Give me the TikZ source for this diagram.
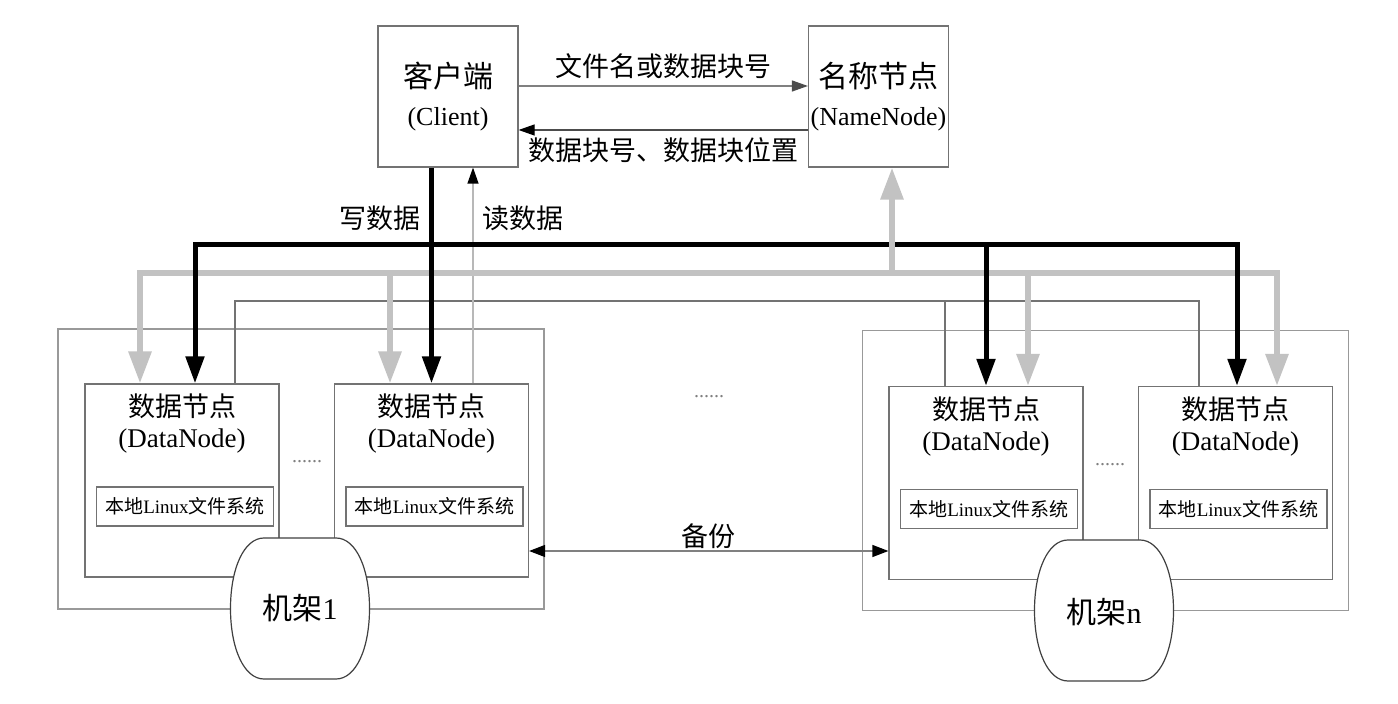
\documentclass[tikz,border=0pt]{standalone}
\usepackage{fontspec}
\setmainfont{Liberation Serif}
\newfontfamily\cjk{Noto Sans CJK SC}
\usepackage{tikz}
\usetikzlibrary{arrows.meta, calc, positioning}

\definecolor{boxgray}{gray}{0.45}
\definecolor{rackgray}{gray}{0.6}
\definecolor{busgray}{gray}{0.76}
\definecolor{readgray}{gray}{0.72}

\tikzset{
	box/.style = {draw=boxgray, line width=0.6pt, inner sep=0pt},
	topbox/.style = {box, minimum width=70pt, minimum height=70.5pt, font=\fontsize{13}{19}\selectfont},
	dnbox/.style = {box, minimum width=97pt, minimum height=96.5pt},
	dntext/.style = {inner sep=0pt, font=\fontsize{13.5}{15.5}\selectfont},
	fsbox/.style = {box, minimum width=88.5pt, minimum height=19.5pt, font=\fontsize{9.5}{11}\selectfont},
	rackbox/.style = {draw=rackgray, line width=0.6pt, minimum width=243pt, minimum height=140pt},
	lbl/.style = {font=\fontsize{13.5}{15.5}\selectfont},
	dots/.style = {text=gray, font=\fontsize{10}{10}\selectfont},
	wline/.style = {line width=2.5pt},
	warrow/.style = {wline, -{Triangle[width=9pt, length=13.5pt]}},
	gline/.style = {draw=busgray, line width=3pt},
	garrow/.style = {gline, -{Triangle[width=11pt, length=16pt]}},
	link/.style = {draw=boxgray, line width=0.6pt},
	readline/.style = {draw=readgray, line width=0.6pt, -{Triangle[width=5.5pt, length=8pt, color=black]}},
	reqline/.style = {draw=gray, line width=0.6pt, -{Triangle[width=5.5pt, length=8pt, color=black!70]}},
	respline/.style = {draw=black!70, line width=0.6pt, -{Triangle[width=5.5pt, length=8pt, color=black]}},
	bkline/.style = {draw=gray, line width=0.6pt, {Triangle[width=6pt, length=8pt, color=black]}-{Triangle[width=6pt, length=8pt, color=black]}},
	rackdrum/.pic = {\draw[draw=black!75, line width=0.6pt, fill=white] (-36,-70.5) -- (36,-70.5) .. controls (56,-70.5) and (69.5,-40) .. (69.5,0) .. controls (69.5,40) and (56,70.5) .. (36,70.5) -- (-36,70.5) .. controls (-56,70.5) and (-69.5,40) .. (-69.5,0) .. controls (-69.5,-40) and (-56,-70.5) .. (-36,-70.5) -- cycle;}
}

\begin{document}
\begin{tikzpicture}[x=0.5pt, y=-0.5pt, every node/.append style={align=center}]
	\useasboundingbox (0,0) rectangle (1398,704);

	\node[topbox] (client) at (448,96.5) {{\cjk\fontsize{15}{19}\selectfont 客户端}\\(Client)};
	\node[topbox] (namenode) at (878.5,96.5) {{\cjk\fontsize{15}{19}\selectfont 名称节点}\\(NameNode)};

	\node[rackbox] (rack1box) at (301,469) {};
	\node[rackbox] (racknbox) at (1105.5,470.5) {};

	\node[dnbox] (dn1) at (182,480.5) {};
	\node[dnbox] (dn2) at (431.5,480.5) {};
	\node[dnbox] (dn3) at (986,483) {};
	\node[dnbox] (dn4) at (1235.5,483) {};
	\foreach \n in {1,...,4} {
		\node[dntext, below=5pt of dn\n.north] (dnt\n) {{\cjk 数据节点}\\(DataNode)};
		\node[fsbox] (fs\n) at ($(dn\n)+(3,26)$) {{\cjk 本地}Linux{\cjk 文件系统}};
	}

	\node[dots] (dots12) at (307,462) {......};
	\node[dots] (dotsmid) at (709,397) {......};
	\node[dots] (dots34) at (1110,465) {......};

	\coordinate (req) at (0,86);
	\coordinate (resp) at (0,130);
	\coordinate (wbus) at (0,245);
	\coordinate (gbus) at (0,273);
	\coordinate (lbus) at (0,301);
	\coordinate (bk) at (0,551);

	\coordinate (w1) at ($(dn1.north)+(13,0)$);
	\coordinate (w3) at (dn3.north);
	\coordinate (w4) at ($(dn4.north)+(1.5,0)$);
	\coordinate (g1) at ($(dn1.north)+(-42,0)$);
	\coordinate (g2) at ($(dn2.north)+(-41.5,0)$);
	\coordinate (g3) at ($(dn3.north)+(42,0)$);
	\coordinate (g4) at ($(dn4.north)+(41.5,0)$);
	\coordinate (l1) at ($(dn1.north)+(53,0)$);
	\coordinate (l3) at ($(dn3.north)+(-41,0)$);
	\coordinate (l4) at ($(dn4.north)+(-36.5,0)$);
	\coordinate (r2) at ($(dn2.north)+(41.5,0)$);
	\coordinate (gn) at ($(namenode.south)+(13.5,0)$);

	\draw[reqline] (client.east |- req) -- node[lbl, above] {{\cjk 文件名或数据块号}} (namenode.west |- req);
	\draw[respline] (namenode.west |- resp) -- node[lbl, below] {{\cjk 数据块号、数据块位置}} (client.east |- resp);

	\draw[link] (l1) |- (lbus -| l4) -- (l4);
	\draw[link] (l3) -- (l3 |- lbus);
	\draw[readline] (r2) -- (r2 |- client.south);

	\draw[garrow] (g4 |- gbus) -- (g1 |- gbus) -- (g1);
	\draw[garrow] (g1 |- gbus) -- (g4 |- gbus) -- (g4);
	\draw[garrow] (g2 |- gbus) -- (g2);
	\draw[garrow] (g3 |- gbus) -- (g3);

	\draw[warrow] (w4 |- wbus) -- (w1 |- wbus) -- (w1);
	\draw[warrow] (w1 |- wbus) -- (w4 |- wbus) -- (w4);
	\draw[warrow] (w3 |- wbus) -- (w3);
	\draw[warrow] (client.south -| dn2.north) -- (dn2.north);

	\draw[garrow] (gn |- gbus) -- (gn);

	\node[lbl] (write) at (380,218) {{\cjk 写数据}};
	\node[lbl] (read) at (523,218) {{\cjk 读数据}};

	\draw[bkline] (dn2.east |- bk) -- node[lbl, above, inner sep=1pt] {{\cjk 备份}} (dn3.west |- bk);

	\pic at (300,608.5) {rackdrum};
	\node[lbl, font=\fontsize{15}{15}\selectfont] (rack1) at (300,608.5) {{\cjk 机架}1};
	\pic at (1104,610.5) {rackdrum};
	\node[lbl, font=\fontsize{15}{15}\selectfont] (rackn) at (1104,612) {{\cjk 机架}n};
\end{tikzpicture}
\end{document}
